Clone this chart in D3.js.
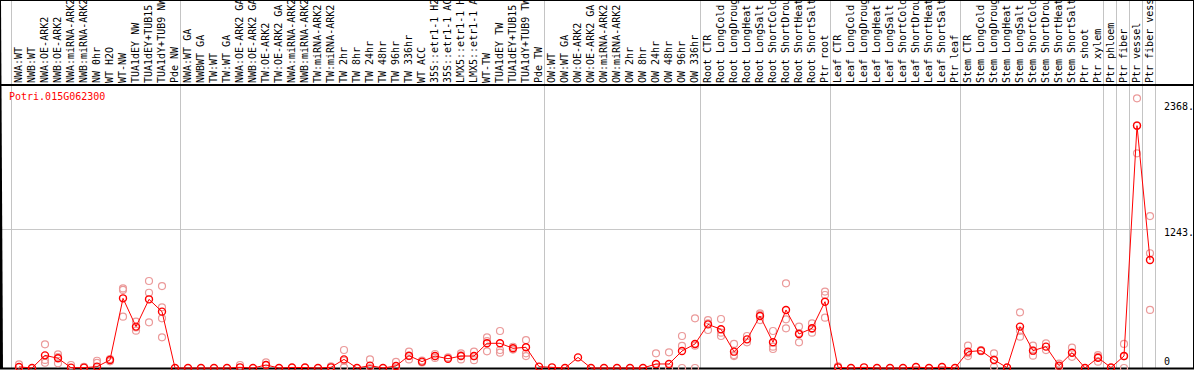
<!DOCTYPE html>
<html>
<head>
<meta charset="utf-8">
<script src="https://cdn.jsdelivr.net/npm/d3@7"></script>
<style>
html,body{margin:0;padding:0;background:#fff;}
svg{display:block;}
text{font-family:"DejaVu Sans Mono",monospace;font-size:10px;}
</style>
</head>
<body>
<svg id="chart" width="1194" height="370"></svg>
<script>
const geneId = "Potri.015G062300";

const categories = [
  "NWA:WT","NWB:WT","NWA:OE-ARK2","NWB:OE-ARK2","NWA:miRNA-ARK2","NWB:miRNA-ARK2","NW 0hr","WT H2O","WT-NW","TUA1dEY NW","TUA1dEY+TUB15","TUA1dY+TUB9 NW","Pde NW",
  "NWA:WT GA","NWBWT GA","TW:WT","TW:WT GA","NWA:OE-ARK2 GA","NWB:OE-ARK2 GA","TW:OE-ARK2","TW:OE-ARK2 GA","NWA:miRNA-ARK2","NWB:miRNA-ARK2","TW:miRNA-ARK2","TW:miRNA-ARK2","TW 2hr","TW 8hr","TW 24hr","TW 48hr","TW 96hr","TW 336hr","WT ACC","35S::etr1-1 H2O","35S::etr1-1 ACC","LMX5::etr1-1 H2O","LMX5::etr1-1 ACC","WT-TW","TUA1dEY TW","TUA1dEY+TUB15","TUA1dY+TUB9 TW","Pde TW",
  "OW:WT","OW:WT GA","OW:OE-ARK2","OW:OE-ARK2 GA","OW:miRNA-ARK2","OW:miRNA-ARK2","OW 2hr","OW 8hr","OW 24hr","OW 48hr","OW 96hr","OW 336hr",
  "Root CTR","Root LongCold","Root LongDrought","Root LongHeat","Root LongSalt","Root ShortCold","Root ShortDrought","Root ShortHeat","Root ShortSalt","Ptr root",
  "Leaf CTR","Leaf LongCold","Leaf LongDrought","Leaf LongHeat","Leaf LongSalt","Leaf ShortCold","Leaf ShortDrought","Leaf ShortHeat","Leaf ShortSalt","Ptr leaf",
  "Stem CTR","Stem LongCold","Stem LongDrought","Stem LongHeat","Stem LongSalt","Stem ShortCold","Stem ShortDrought","Stem ShortHeat","Stem ShortSalt","Ptr shoot","Ptr xylem",
  "Ptr phloem","Ptr fiber","Ptr vessel","Ptr fiber vessel"
];

// group sizes (separators drawn between groups)
const groupSizes = [13, 28, 12, 10, 10, 11, 1, 1, 1, 1];

const means = [
  10, 0, 113, 87, 3, 3, 12, 72, 623, 370, 614, 504, 0,
  0, 0, 0, 0, 6, 0, 27, 0, 5, 4, 0, 6, 77, 0, 21, 0, 18, 110, 57, 107, 83, 107, 107, 221, 221, 176, 185, 12,
  6, 0, 95, 0, 0, 0, 0, 0, 36, 36, 152, 215,
  390, 346, 146, 256, 465, 230, 519, 304, 355, 593,
  6, 0, 6, 0, 0, 0, 9, 0, 9, 0,
  146, 155, 72, 4, 370, 155, 191, 21, 137, 0, 92,
  4, 107, 2167, 966
];

const replicates = [
  [33, 5], [], [212, 47, 72], [122, 42, 97], [27], [10], [65, 45], [80, 60], [712, 698, 459], [414, 334, 362], [778, 673, 408], [733, 543, 444, 274], [],
  [], [], [], [], [27], [], [51, 27], [], [], [], [], [15], [161, 5, 65], [], [77, 0], [], [54, 0], [146, 77, 107], [67, 50], [125, 90], [95], [131, 77, 113], [146, 70, 105], [274, 240, 149], [331, 161, 137], [190, 165], [250, 131, 107], [],
  [], [], [], [], [], [], [], [], [131, 0], [140, 0], [286, 197, 0], [444, 0, 200],
  [429, 400, 340], [438, 316, 286], [215, 116, 107], [286, 230], [489, 429, 477], [331, 191, 170], [757, 435, 355], [370, 230, 312], [399, 316, 350], [683, 653, 450],
  [15], [], [], [], [], [], [], [], [], [],
  [200, 107, 131], [160, 150], [131, 9, 76], [], [498, 280, 332], [110, 200, 155], [221, 160], [40, 5], [182, 100], [], [116, 57, 100],
  [], [215, 0, 106], [2412, 1920, 2169], [1359, 1026, 519]
];

const yTickValues = [0, 1243, 2368];
const yTickLabels = ["0", "1243.", "2368."];
const gridValues = [1243];

const W = 1194, H = 370;
const svg = d3.select("#chart");

const x = d3.scaleLinear().domain([0, categories.length - 1]).range([19, 1150]);
const y = d3.scaleLinear().domain([0, 1243]).range([368, 229]);

// horizontal grid
svg.selectAll("line.grid").data(gridValues).enter().append("line")
  .attr("class", "grid")
  .attr("x1", 1).attr("x2", 1156)
  .attr("y1", d => Math.round(y(d)) + 0.5).attr("y2", d => Math.round(y(d)) + 0.5)
  .attr("stroke", "#c8c8c8").attr("stroke-width", 1);

// group separators
const sepIdx = [];
let acc = 0;
groupSizes.forEach(s => { sepIdx.push(acc); acc += s; });
sepIdx.push(acc);
svg.selectAll("line.sep").data(sepIdx).enter().append("line")
  .attr("class", "sep")
  .attr("x1", d => Math.round(x(d) - 8) + 0.5).attr("x2", d => Math.round(x(d) - 8) + 0.5)
  .attr("y1", 0).attr("y2", 368)
  .attr("stroke", "#c4c4c4").attr("stroke-width", 1);

// frame
svg.append("rect").attr("x", 0.5).attr("y", 0.5).attr("width", W - 1).attr("height", 368)
  .attr("fill", "none").attr("stroke", "#000").attr("stroke-width", 1);
svg.append("line").attr("x1", 0).attr("x2", 2).attr("y1", 0).attr("y2", 369)
  .attr("stroke", "#000").attr("stroke-width", 2);
svg.append("line").attr("x1", 0).attr("x2", W).attr("y1", 85).attr("y2", 85)
  .attr("stroke", "#000").attr("stroke-width", 2);
svg.append("line").attr("x1", 0).attr("x2", W).attr("y1", 368.5).attr("y2", 368.5)
  .attr("stroke", "#000").attr("stroke-width", 2);

// category labels (rotated)
svg.selectAll("text.cat").data(categories).enter().append("text")
  .attr("class", "cat")
  .attr("transform", (d, i) => `translate(${x(i) + 2.5},83) rotate(-90)`)
  .attr("fill", "#000")
  .text(d => d);

// gene id
svg.append("text").attr("x", 9).attr("y", 100).attr("fill", "#ff0000").text(geneId);

// y labels
svg.selectAll("text.ylab").data(yTickValues).enter().append("text")
  .attr("class", "ylab")
  .attr("x", 1164)
  .attr("y", d => Math.min(y(d) + 7, 365))
  .attr("fill", "#000")
  .text((d, i) => yTickLabels[i]);

// replicate circles
const repPts = [];
replicates.forEach((arr, i) => arr.forEach(v => repPts.push({i, v})));
svg.selectAll("circle.rep").data(repPts).enter().append("circle")
  .attr("class", "rep")
  .attr("cx", d => x(d.i)).attr("cy", d => y(d.v)).attr("r", 3.5)
  .attr("fill", "none").attr("stroke", "#eb9a9a").attr("stroke-width", 1.2);

// mean line
const line = d3.line().x((d, i) => x(i)).y(d => y(d));
svg.append("path").datum(means).attr("d", line)
  .attr("fill", "none").attr("stroke", "#ff0000").attr("stroke-width", 1);

// mean circles
svg.selectAll("circle.mean").data(means).enter().append("circle")
  .attr("class", "mean")
  .attr("cx", (d, i) => x(i)).attr("cy", d => y(d)).attr("r", 3.5)
  .attr("fill", "none").attr("stroke", "#ff0000").attr("stroke-width", 1.4);
</script>
</body>
</html>
